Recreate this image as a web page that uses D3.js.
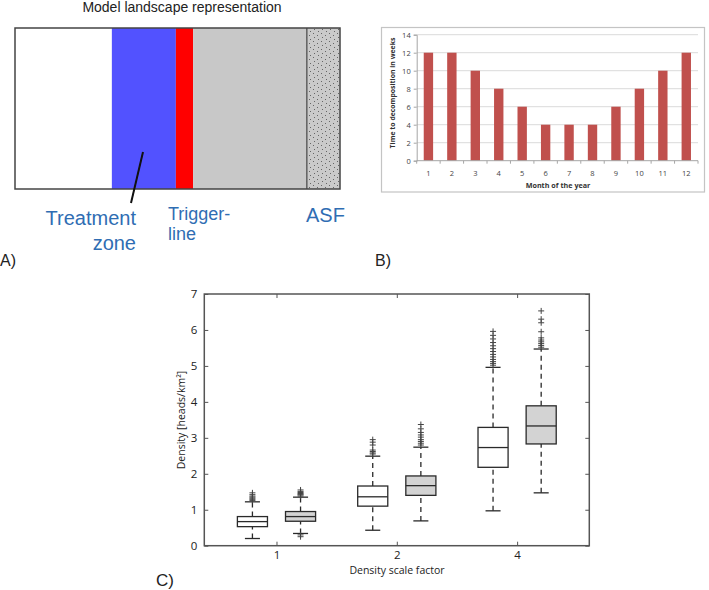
<!DOCTYPE html>
<html><head><meta charset="utf-8">
<script src="https://cdn.jsdelivr.net/npm/d3@7"></script>
<style>body{margin:0;background:#fff}svg{display:block}</style>
</head><body>
<script>
// ---------- Panel A data (landscape zones, % of landscape width) ----------
const zoneNames = ["free", "treatment", "trigger", "infected", "ASF"];
const zoneStart = [0, 29.8, 49.5, 54.8, 89.8];
const zoneEnd   = [29.8, 49.5, 54.8, 89.8, 100];
const zoneFill  = ["#ffffff", "#5252ff", "#ff0000", "#c8c8c8", "url(#stipple)"];

// ---------- Panel B data ----------
const months = ["1","2","3","4","5","6","7","8","9","10","11","12"];
const decompWeeks = [12, 12, 10, 8, 6, 4, 4, 4, 6, 8, 10, 12];
const bTicks = [0, 2, 4, 6, 8, 10, 12, 14];

// ---------- Panel C data ----------
const scaleFactors = ["1", "2", "4"];
// [lower whisker, Q1, median, Q3, upper whisker]
const whiteStats = [[0.20, 0.53, 0.67, 0.81, 1.22],
                    [0.43, 1.10, 1.36, 1.66, 2.49],
                    [0.97, 2.18, 2.73, 3.29, 4.96]];
const grayStats  = [[0.34, 0.68, 0.81, 0.95, 1.35],
                    [0.69, 1.40, 1.67, 1.94, 2.74],
                    [1.47, 2.83, 3.33, 3.89, 5.47]];
const whiteOutliers = [[1.26, 1.29, 1.32, 1.35, 1.38, 1.42, 1.47],
                       [2.55, 2.58, 2.62, 2.66, 2.80, 2.88, 2.95],
                       [5.02, 5.07, 5.12, 5.18, 5.25, 5.32, 5.40, 5.48, 5.56, 5.65, 5.75, 5.85, 5.96]];
const grayOutliers  = [[0.25, 0.30, 1.38, 1.41, 1.43, 1.45, 1.48, 1.51, 1.55],
                       [2.80, 2.85, 2.90, 2.95, 3.02, 3.08, 3.15, 3.25, 3.37],
                       [5.52, 5.57, 5.62, 5.67, 5.72, 5.78, 5.95, 6.20, 6.30, 6.53]];
const cTicks = [0, 1, 2, 3, 4, 5, 6, 7];

const W = 709, H = 590;
const svg = d3.select("body").append("svg").attr("width", W).attr("height", H)
  .style("font-family", "'Liberation Sans', Arial, sans-serif");

// stipple pattern
const defs = svg.append("defs");
const pat = defs.append("pattern").attr("id", "stipple").attr("patternUnits", "userSpaceOnUse")
  .attr("width", 8).attr("height", 8);
pat.append("rect").attr("width", 8).attr("height", 8).attr("fill", "#cacaca");
[[1,1],[5,3],[2,5],[6,7]].forEach(p => pat.append("rect").attr("x", p[0]).attr("y", p[1])
  .attr("width", 1).attr("height", 1).attr("fill", "#666"));

// ================= Panel A =================
const ax = d3.scaleLinear().domain([0, 100]).range([15, 340]);
const aTop = 28, aBot = 189;
svg.append("text").attr("x", 182).attr("y", 11.5).attr("text-anchor", "middle")
  .attr("font-size", 14).attr("fill", "#222").text("Model landscape representation");
svg.append("g").selectAll("rect").data(zoneNames).join("rect")
  .attr("x", (d, i) => ax(zoneStart[i])).attr("y", aTop)
  .attr("width", (d, i) => ax(zoneEnd[i]) - ax(zoneStart[i])).attr("height", aBot - aTop)
  .attr("fill", (d, i) => zoneFill[i]);
svg.append("line").attr("x1", ax(zoneStart[4])).attr("x2", ax(zoneStart[4]))
  .attr("y1", aTop).attr("y2", aBot).attr("stroke", "#444").attr("stroke-width", 1.2);
svg.append("rect").attr("x", ax(0)).attr("y", aTop).attr("width", ax(100) - ax(0))
  .attr("height", aBot - aTop).attr("fill", "none").attr("stroke", "#444").attr("stroke-width", 1.5);
svg.append("line").attr("x1", 143).attr("y1", 152).attr("x2", 131).attr("y2", 203)
  .attr("stroke", "#111").attr("stroke-width", 2);
const blue = "#2f6db3";
const aLabels = svg.append("g").attr("fill", blue);
aLabels.append("text").attr("x", 136).attr("y", 225).attr("text-anchor", "end").attr("font-size", 20).text("Treatment");
aLabels.append("text").attr("x", 136).attr("y", 249.5).attr("text-anchor", "end").attr("font-size", 20).text("zone");
aLabels.append("text").attr("x", 168).attr("y", 219.5).attr("font-size", 18).text("Trigger-");
aLabels.append("text").attr("x", 168).attr("y", 240).attr("font-size", 18).text("line");
aLabels.append("text").attr("x", 306).attr("y", 222).attr("font-size", 20).text("ASF");
svg.append("text").attr("x", 0).attr("y", 265.5).attr("font-size", 16).attr("fill", "#222").text("A)");

// ================= Panel B =================
svg.append("rect").attr("x", 381.5).attr("y", 27.5).attr("width", 323).attr("height", 164.5)
  .attr("fill", "#fff").attr("stroke", "#c4c4c4").attr("stroke-width", 1.2);
const bx = d3.scaleBand().domain(months).range([416.7, 698]).paddingInner(0.6).paddingOuter(0.3);
const bxOuter = d3.scaleBand().domain(months).range([416.7, 698]);
const by = d3.scaleLinear().domain([0, 14]).range([160.7, 34.7]);
const bFont = "'Open Sans', 'DejaVu Sans', sans-serif";
// gridlines
svg.append("g").selectAll("line").data(bTicks.filter(t => t > 0)).join("line")
  .attr("x1", 416.7).attr("x2", 698).attr("y1", d => by(d)).attr("y2", d => by(d))
  .attr("stroke", "#d0d0d0").attr("stroke-width", 0.8);
// bars
svg.append("g").selectAll("rect").data(decompWeeks).join("rect")
  .attr("x", (d, i) => bx(months[i])).attr("width", bx.bandwidth())
  .attr("y", d => by(d)).attr("height", d => by(0) - by(d)).attr("fill", "#c0504d");
// axes
const byAxis = d3.axisLeft(by).tickValues(bTicks).tickSize(3).tickPadding(3);
const gby = svg.append("g").attr("transform", "translate(416.7,0)").call(byAxis);
gby.select(".domain").attr("stroke", "#a6a6a6");
gby.selectAll(".tick line").attr("stroke", "#a6a6a6");
gby.selectAll("text").attr("font-family", bFont).attr("font-size", 7.5).attr("fill", "#444");
const gbx = svg.append("g").attr("transform", `translate(0,${by(0)})`);
gbx.append("line").attr("x1", 416.7).attr("x2", 698).attr("stroke", "#a6a6a6");
gbx.selectAll("line.t").data(months.concat(["end"])).join("line").attr("class", "t")
  .attr("x1", (d, i) => i < 12 ? bxOuter(d) : 698).attr("x2", (d, i) => i < 12 ? bxOuter(d) : 698)
  .attr("y1", 0).attr("y2", 3).attr("stroke", "#a6a6a6");
gbx.selectAll("text").data(months).join("text")
  .attr("x", d => bxOuter(d) + bxOuter.bandwidth() / 2).attr("y", 15).attr("text-anchor", "middle")
  .attr("font-family", bFont).attr("font-size", 7.5).attr("fill", "#444").text(d => d);
svg.append("text").attr("x", 558).attr("y", 188).attr("text-anchor", "middle")
  .attr("font-family", bFont).attr("font-weight", "bold").attr("font-size", 7.2).attr("fill", "#333")
  .text("Month of the year");
svg.append("text").attr("transform", "translate(394.5,93) rotate(-90)").attr("text-anchor", "middle")
  .attr("font-family", bFont).attr("font-weight", "bold").attr("font-size", 6.9).attr("fill", "#333")
  .text("Time to decomposition in weeks");
svg.append("text").attr("x", 375).attr("y", 265.5).attr("font-size", 16).attr("fill", "#222").text("B)");

// ================= Panel C =================
const cL = 204.3, cR = 589.3, cT = 294, cB = 545.7;
const cx = d3.scalePoint().domain(scaleFactors).range([cL, cR]).padding(0.6);
const cy = d3.scaleLinear().domain([0, 7]).range([cB, cT]);
const step = cx.step();
const boxW = 0.25 * step, off = 0.2 * step, capW = boxW / 2;
const cFont = "'Open Sans', 'DejaVu Sans', sans-serif";
const gc = svg.append("g");
function drawBoxes(stats, outl, dx, fill) {
  stats.forEach((s, i) => {
    const xc = cx(scaleFactors[i]) + dx;
    const g = gc.append("g").attr("stroke", "#2a2a2a").attr("stroke-width", 1.3);
    // whiskers
    g.append("line").attr("x1", xc).attr("x2", xc).attr("y1", cy(s[0])).attr("y2", cy(s[1]))
      .attr("stroke-dasharray", "5,4");
    g.append("line").attr("x1", xc).attr("x2", xc).attr("y1", cy(s[3])).attr("y2", cy(s[4]))
      .attr("stroke-dasharray", "5,4");
    [s[0], s[4]].forEach(v => g.append("line").attr("x1", xc - capW / 2).attr("x2", xc + capW / 2)
      .attr("y1", cy(v)).attr("y2", cy(v)));
    g.append("rect").attr("x", xc - boxW / 2).attr("y", cy(s[3])).attr("width", boxW)
      .attr("height", cy(s[1]) - cy(s[3])).attr("fill", fill);
    g.append("line").attr("x1", xc - boxW / 2).attr("x2", xc + boxW / 2)
      .attr("y1", cy(s[2])).attr("y2", cy(s[2]));
    // outliers
    g.selectAll("path.o").data(outl[i]).join("path").attr("class", "o")
      .attr("d", v => `M${xc - 3},${cy(v)}h6M${xc},${cy(v) - 3}v6`)
      .attr("stroke", "#444").attr("stroke-width", 1);
  });
}
drawBoxes(whiteStats, whiteOutliers, -off, "#ffffff");
drawBoxes(grayStats, grayOutliers, off, "#d3d3d3");
// frame and ticks
gc.append("rect").attr("x", cL).attr("y", cT).attr("width", cR - cL).attr("height", cB - cT)
  .attr("fill", "none").attr("stroke", "#555").attr("stroke-width", 1.5);
const gyl = svg.append("g").attr("transform", `translate(${cL},0)`)
  .call(d3.axisLeft(cy).tickValues(cTicks).tickFormat(d3.format("d")).tickSize(-4).tickPadding(7));
const gyr = svg.append("g").attr("transform", `translate(${cR},0)`)
  .call(d3.axisRight(cy).tickValues(cTicks).tickSize(-4).tickFormat(""));
const gxb = svg.append("g").attr("transform", `translate(0,${cB})`)
  .call(d3.axisBottom(cx).tickSize(-4).tickPadding(5));
const gxt = svg.append("g").attr("transform", `translate(0,${cT})`)
  .call(d3.axisTop(cx).tickSize(-4).tickFormat(""));
[gyl, gyr, gxb, gxt].forEach(g => {
  g.select(".domain").remove();
  g.selectAll(".tick line").attr("stroke", "#555");
  g.selectAll("text").attr("font-family", cFont).attr("font-size", 11.5).attr("fill", "#222");
});
svg.append("text").attr("x", 397).attr("y", 574).attr("text-anchor", "middle")
  .attr("font-family", cFont).attr("font-size", 10.5).attr("fill", "#222").text("Density scale factor");
svg.append("text").attr("transform", "translate(185,420) rotate(-90)").attr("text-anchor", "middle")
  .attr("font-family", cFont).attr("font-size", 10.5).attr("fill", "#222").text("Density [heads/km²]");
svg.append("text").attr("x", 156).attr("y", 586).attr("font-size", 17).attr("fill", "#222").text("C)");
</script>
</body></html>
